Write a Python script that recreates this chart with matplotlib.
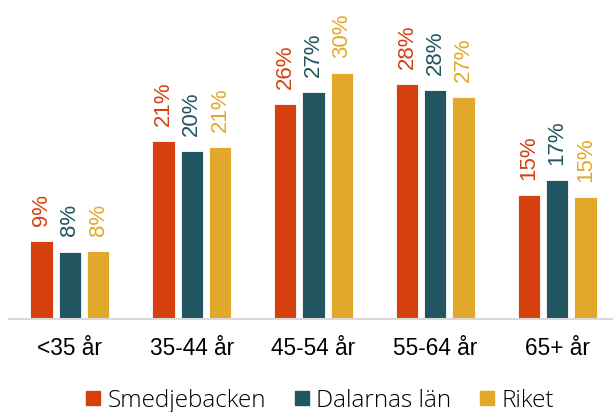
import numpy as np
import matplotlib
matplotlib.use("Agg")
import matplotlib.pyplot as plt
from matplotlib.lines import Line2D

# Data (share of population, %)
categories = ["<35 år", "35-44 år", "45-54 år", "55-64 år", "65+ år"]
series_names = ["Smedjebacken", "Dalarnas län", "Riket"]
smedjebacken = [9.4, 21.4, 25.9, 28.3, 14.9]
dalarna = [8.1, 20.2, 27.3, 27.6, 16.7]
riket = [8.2, 20.7, 29.6, 26.7, 14.7]
# labels as printed on the chart
smedjebacken_lbl = [9, 21, 26, 28, 15]
dalarna_lbl = [8, 20, 27, 28, 17]
riket_lbl = [8, 21, 30, 27, 15]

colors = ["#D6400F", "#21555F", "#E2A82A"]

fig = plt.figure(figsize=(6.13, 4.12), dpi=100)
ax = fig.add_axes([9 / 613, 93 / 412, 609 / 613, 319 / 412])

x = np.arange(len(categories))
width = 0.183
step = 0.232
all_vals = [smedjebacken, dalarna, riket]
all_lbls = [smedjebacken_lbl, dalarna_lbl, riket_lbl]

for i, (vals, lbls) in enumerate(zip(all_vals, all_lbls)):
    pos = x + (i - 1) * step
    ax.bar(pos, vals, width, color=colors[i], edgecolor="white", linewidth=0.6, zorder=2)
    for px, v, l in zip(pos, vals, lbls):
        ax.annotate(f"{l}%", (px, v), xytext=(0, 11), textcoords="offset points",
                    rotation=90, ha="center", va="bottom", color=colors[i],
                    fontsize=16, family="Liberation Sans", annotation_clip=False)

ax.set_xlim(-0.5, 4.5)
ax.set_ylim(0, 319 / 8.3)
ax.set_yticks([])
ax.set_xticks(x)
ax.set_xticklabels(categories, fontsize=16.3, family="Liberation Sans", color="black")
ax.tick_params(axis="x", length=0, pad=13)
for s in ["top", "right", "left"]:
    ax.spines[s].set_visible(False)
ax.spines["bottom"].set_color("#d9d9d9")
ax.spines["bottom"].set_linewidth(1.5)

handles = [Line2D([], [], marker="s", linestyle="none", markersize=9.5,
                  markerfacecolor=c, markeredgecolor=c) for c in colors]
fig.legend(handles, series_names, loc="center", bbox_to_anchor=(0.521, 1 - 401 / 412),
           ncol=3, frameon=False, handletextpad=0.25, columnspacing=1.1,
           handlelength=0.7, prop={"family": "Open Sans", "weight": "light", "size": 17.5})

fig.savefig("out.png", dpi=100)
